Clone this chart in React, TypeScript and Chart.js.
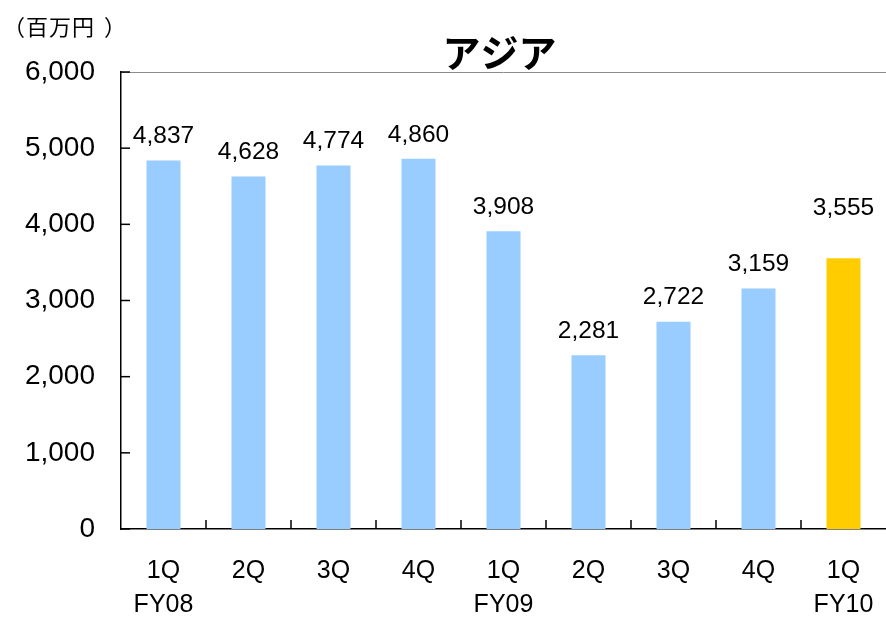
import React, { useEffect, useRef } from "react";
import { Chart, registerables } from "chart.js";

Chart.register(...registerables);

const quarters = ["1Q", "2Q", "3Q", "4Q", "1Q", "2Q", "3Q", "4Q", "1Q"];
const fiscalYears = ["FY08", "", "", "", "FY09", "", "", "", "FY10"];
const values = [4837, 4628, 4774, 4860, 3908, 2281, 2722, 3159, 3555];
const barColors = [
  "#99CCFF", "#99CCFF", "#99CCFF", "#99CCFF", "#99CCFF",
  "#99CCFF", "#99CCFF", "#99CCFF", "#FFCC00",
];
const yTicks = [0, 1000, 2000, 3000, 4000, 5000, 6000];
const titleText = "アジア";
const unitOpen = "（百万円";
const unitClose = "）";

const FONT = "'Liberation Sans', Arial, sans-serif";
const CJK = "'Noto Sans CJK JP', sans-serif";

const fmt = (v: number) => v.toLocaleString("en-US");

const decorPlugin = {
  id: "decor",
  afterDraw(chart: any) {
    const ctx = chart.ctx;
    const area = chart.chartArea;
    const xs = chart.scales.x;
    const ys = chart.scales.y;
    ctx.save();
    // top border
    ctx.strokeStyle = "#8a8a8a";
    ctx.lineWidth = 1;
    ctx.beginPath();
    ctx.moveTo(area.left, area.top + 0.5);
    ctx.lineTo(area.right, area.top + 0.5);
    ctx.stroke();
    // inward ticks on y axis
    ctx.strokeStyle = "#000";
    ctx.lineWidth = 1.5;
    yTicks.forEach((t) => {
      const y = ys.getPixelForValue(t);
      ctx.beginPath();
      ctx.moveTo(area.left, y);
      ctx.lineTo(area.left + 9, y);
      ctx.stroke();
    });
    // inward ticks on x axis at category boundaries
    for (let i = 1; i < values.length; i++) {
      const x = (xs.getPixelForValue(i - 1) + xs.getPixelForValue(i)) / 2;
      ctx.beginPath();
      ctx.moveTo(x, area.bottom);
      ctx.lineTo(x, area.bottom - 9);
      ctx.stroke();
    }
    // value labels
    const meta = chart.getDatasetMeta(0);
    ctx.fillStyle = "#000";
    ctx.font = `24.5px ${FONT}`;
    ctx.textAlign = "center";
    ctx.textBaseline = "middle";
    meta.data.forEach((bar: any, i: number) => {
      const off = i === values.length - 1 ? 50 : 24;
      ctx.fillText(fmt(values[i]), bar.x, bar.y - off);
    });
    // title
    ctx.font = `bold 38px ${CJK}`;
    ctx.textAlign = "center";
    ctx.textBaseline = "middle";
    ctx.fillText(titleText, (area.left + area.right) / 2 - 4, 53);
    // unit
    ctx.font = `22px ${CJK}`;
    ctx.textAlign = "left";
    try {
      (ctx as any).letterSpacing = "1px";
    } catch (e) {}
    ctx.fillText(unitOpen, 3, 27);
    (ctx as any).letterSpacing = "0px";
    ctx.fillText(unitClose, 104, 27);
    ctx.restore();
  },
};

export default function App() {
  const ref = useRef<HTMLCanvasElement | null>(null);
  useEffect(() => {
    document.body.style.margin = "0";
    const chart = new Chart(ref.current as HTMLCanvasElement, {
      type: "bar",
      data: {
        labels: quarters.map((q, i) => [q, fiscalYears[i]]),
        datasets: [
          {
            data: values,
            backgroundColor: barColors,
            barPercentage: 0.4,
            categoryPercentage: 1,
          },
        ],
      },
      options: {
        animation: false,
        responsive: false,
        devicePixelRatio: 1,
        layout: { padding: { top: 72, right: 0, left: 0, bottom: 0 } },
        plugins: {
          legend: { display: false },
          tooltip: { enabled: false },
          title: { display: false },
        },
        scales: {
          x: {
            grid: { display: false, drawTicks: false },
            border: { display: true, color: "#000", width: 1.5 },
            ticks: {
              color: "#000",
              font: { family: FONT, size: 25, lineHeight: 1.36 },
              padding: 25,
              maxRotation: 0,
              autoSkip: false,
            },
            afterFit: (s: any) => {
              s.height = 88;
              s.paddingLeft = 0;
              s.paddingRight = 0;
            },
          },
          y: {
            min: 0,
            max: 6000,
            grid: { display: false, drawTicks: false },
            border: { display: true, color: "#000", width: 1.5 },
            ticks: {
              stepSize: 1000,
              color: "#000",
              font: { family: FONT, size: 28 },
              padding: 26,
              callback: (v: any) => fmt(Number(v)),
            },
            afterFit: (s: any) => {
              s.width = 121;
              s.paddingTop = 0;
              s.paddingBottom = 0;
            },
          },
        },
      },
      plugins: [decorPlugin],
    });
    return () => chart.destroy();
  }, []);
  return (
    <div style={{ position: "absolute", left: 0, top: 0, width: 886, height: 617, background: "#fff" }}>
      <canvas ref={ref} width={886} height={617} style={{ display: "block" }} />
    </div>
  );
}
